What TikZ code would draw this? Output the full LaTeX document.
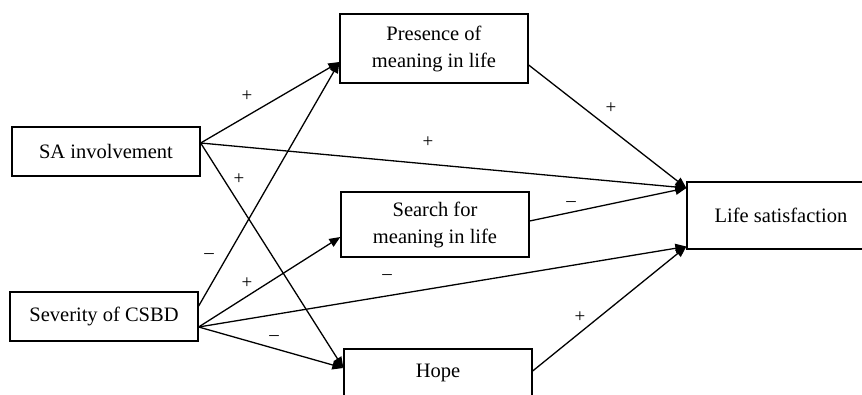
\documentclass[tikz,border=0pt]{standalone}
\usepackage{fontspec}
\setmainfont{Liberation Serif}
\usetikzlibrary{arrows.meta}
\begin{document}
\begin{tikzpicture}[x=1pt,y=-1pt,
  box/.style={draw,line width=1.3pt,minimum width=188pt,inner sep=0pt,align=center,
    font=\fontsize{20.5}{27}\selectfont},
  arr/.style={line width=1.3pt,-{Triangle[length=11pt,width=9pt]}},
  sign/.style={inner sep=0pt,font=\fontsize{19}{20}\selectfont}]
\useasboundingbox (0,0) rectangle (862,394);
\clip (0,0) rectangle (862,394);
\node[box,minimum height=49pt] (SA) at (106,151.5) {SA involvement};
\node[box,minimum height=69pt] (PM) at (434,48.5) {Presence of\\meaning in life};
\node[box,minimum height=65pt] (SM) at (435,224.5) {Search for\\meaning in life};
\node[box,minimum height=49pt] (SC) at (104,316.5) {Severity of CSBD};
\node[box,minimum height=65pt,text depth=22pt] (HO) at (438,381.5) {Hope};
\node[box,minimum height=67pt] (LS) at (781,215.5) {Life satisfaction};

\draw[arr] ([yshift=8.5pt]SA.east) -- ([yshift=-13.5pt]PM.west);
\draw[arr] ([yshift=8.5pt]SA.east) -- ([yshift=27.5pt]LS.west);
\draw[arr] ([yshift=8.5pt]SA.east) -- ([yshift=13.5pt]HO.west);
\draw[arr] ([yshift=10.5pt]SC.east) -- ([yshift=-13.5pt]PM.west);
\draw[arr] ([yshift=-10.5pt]SC.east) -- ([yshift=-12.5pt]SM.west);
\draw[arr] ([yshift=-10.5pt]SC.east) -- ([yshift=-31pt]LS.west);
\draw[arr] ([yshift=-10.5pt]SC.east) -- ([yshift=13.5pt]HO.west);
\draw[arr] ([yshift=-16.5pt]PM.east) -- ([yshift=27.5pt]LS.west);
\draw[arr] ([yshift=3.5pt]SM.east) -- ([yshift=27.5pt]LS.west);
\draw[arr] ([yshift=10.5pt]HO.east) -- ([yshift=-31pt]LS.west);

\node[sign] (l1) at (247,96) {+};
\node[sign] (l2) at (428,142) {+};
\node[sign] (l3) at (239,179) {+};
\node[sign] (l4) at (611,108) {+};
\node[sign] (l5) at (209,256) {–};
\node[sign] (l6) at (247,283) {+};
\node[sign] (l7) at (387,277) {–};
\node[sign] (l8) at (274,338) {–};
\node[sign] (l9) at (571,204) {–};
\node[sign] (l10) at (580,317) {+};
\end{tikzpicture}
\end{document}
